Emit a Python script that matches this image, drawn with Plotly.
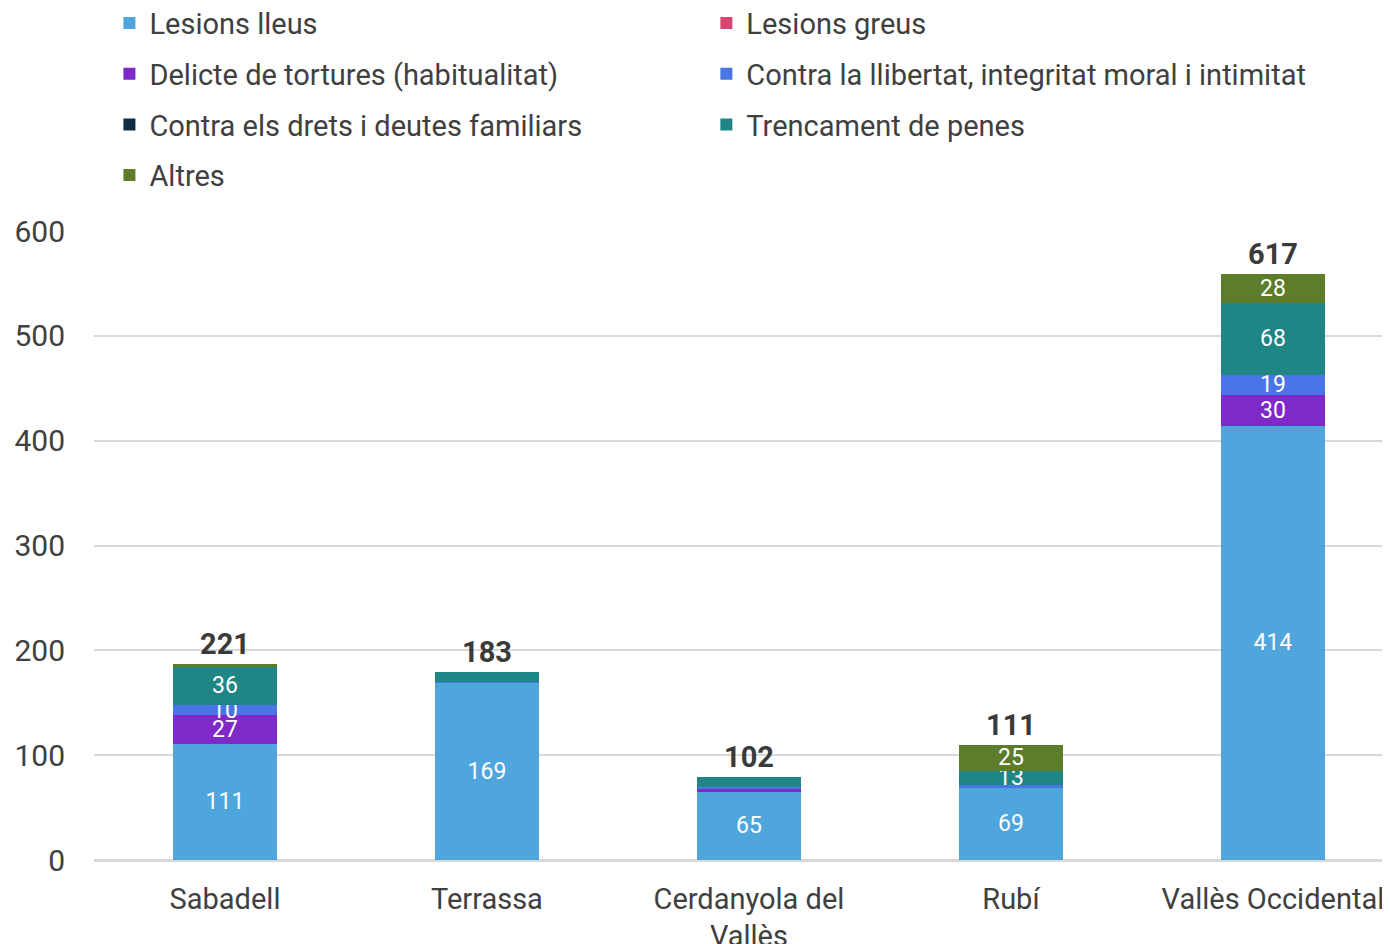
import plotly.graph_objects as go

categories = ["Sabadell", "Terrassa", "Cerdanyola del<br>Vallès", "Rubí", "Vallès Occidental"]
totals = [221, 183, 102, 111, 617]

series_names = [
    "Lesions lleus",
    "Lesions greus",
    "Delicte de tortures (habitualitat)",
    "Contra la llibertat, integritat moral i intimitat",
    "Contra els drets i deutes familiars",
    "Trencament de penes",
    "Altres",
]
lesions_lleus = [111, 169, 65, 69, 414]
lesions_greus = [0, 0, 0, 0, 0]
tortures = [27, 0, 3, 0, 30]
llibertat = [10, 1, 2, 3, 19]
drets = [0, 0, 0, 0, 0]
trencament = [36, 9, 9, 13, 68]
altres = [3, 0, 0, 25, 28]

series_values = [lesions_lleus, lesions_greus, tortures, llibertat, drets, trencament, altres]
colors = ["#4EA6DC", "#D6456F", "#7E29C8", "#4A75E6", "#0F2D45", "#1F8585", "#5E7D2A"]
legend_column = ["legend", "legend2", "legend", "legend2", "legend", "legend2", "legend"]

FONT = "Roboto"
TXT = "#404040"

fig = go.Figure()
for i, (name, vals, col, lg) in enumerate(zip(series_names, series_values, colors, legend_column)):
    fig.add_trace(go.Bar(
        x=categories, y=vals,
        name=name,
        legend=lg,
        legendgroup=f"g{i}",
        marker=dict(color=col, line=dict(width=0)),
        width=0.4,
        text=[str(v) if v >= 10 else "" for v in vals],
        textposition="inside",
        insidetextanchor="middle",
        textangle=0,
        constraintext="none",
        textfont=dict(family=FONT, size=23, color="white"),
        hovertemplate=f"{name}<br>%{{x}}: %{{y}}<extra></extra>",
    ))

stack_tops = [sum(s[i] for s in series_values) for i in range(len(categories))]
for cat, top, tot in zip(categories, stack_tops, totals):
    fig.add_annotation(x=cat, y=top, text=f"<b>{tot}</b>", showarrow=False,
                       yanchor="bottom", yshift=1,
                       font=dict(family=FONT, size=29, color="#3a3a3a"))

legend_common = dict(
    orientation="v", xanchor="left", y=1.371, yanchor="top", yref="paper",
    font=dict(family=FONT, size=29, color=TXT), bgcolor="rgba(0,0,0,0)",
    traceorder="grouped", itemclick=False, itemdoubleclick=False, tracegroupgap=10,
)

fig.update_layout(
    barmode="stack",
    width=1390, height=944,
    margin=dict(l=86, r=8, t=223, b=92, autoexpand=False),
    paper_bgcolor="white", plot_bgcolor="white",
    font=dict(family=FONT, size=29, color=TXT),
    legend=dict(x=0.0119, **legend_common),
    legend2=dict(x=0.4725, **legend_common),
    showlegend=True,
)
fig.update_xaxes(range=[-0.5, 4.447], showgrid=False, showline=True,
                 linecolor="#d9d9d9", linewidth=1.5, ticks="", automargin=False,
                 tickfont=dict(family=FONT, size=29, color=TXT), ticklabelstandoff=12)
fig.update_yaxes(range=[0, 600], dtick=100, showgrid=True, gridcolor="#d9d9d9",
                 gridwidth=1.5, zeroline=True, zerolinecolor="#d9d9d9", zerolinewidth=1.5,
                 automargin=False,
                 tickfont=dict(family=FONT, size=30, color=TXT), ticklabelstandoff=28)

fig.write_html("out.html")
